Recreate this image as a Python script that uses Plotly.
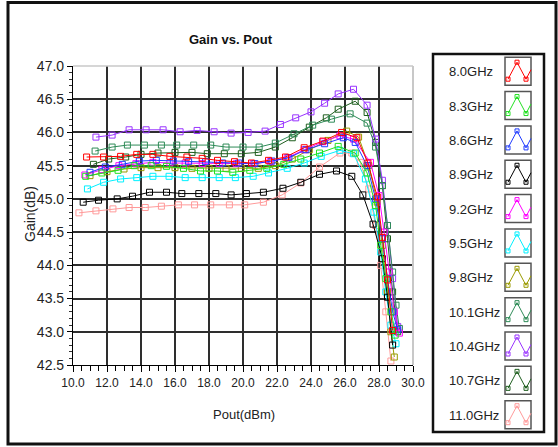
import plotly.graph_objects as go

# ---------------- data ----------------
freq_labels = ["8.0GHz", "8.3GHz", "8.6GHz", "8.9GHz", "9.2GHz", "9.5GHz",
               "9.8GHz", "10.1GHz", "10.4GHz", "10.7GHz", "11.0GHz"]
colors = ["#FF0000", "#22E022", "#1F3BFF", "#000000", "#FF00FF", "#00F0FF",
          "#9A9A00", "#2E8B57", "#9933FF", "#1E5E1E", "#FF9A9A"]

pout_80 = [10.8, 11.8, 12.8, 13.75, 14.7, 15.7, 16.7, 17.6, 18.5, 19.5, 20.5, 21.5, 22.5, 23.6, 24.7, 25.8, 26.7, 27.35, 27.9, 28.2, 28.5, 28.8]
gain_80 = [45.63, 45.63, 45.64, 45.67, 45.67, 45.64, 45.63, 45.61, 45.58, 45.56, 45.54, 45.58, 45.63, 45.77, 45.87, 46.0, 45.92, 45.54, 45.03, 44.42, 43.78, 43.02]

pout_83 = [10.75, 11.7, 12.65, 13.6, 14.6, 15.5, 16.5, 17.5, 18.5, 19.4, 20.4, 21.4, 22.4, 23.4, 24.5, 25.6, 26.6, 27.3, 27.8, 28.1, 28.4, 28.7, 28.95]
gain_83 = [45.34, 45.39, 45.43, 45.5, 45.5, 45.49, 45.46, 45.42, 45.42, 45.4, 45.43, 45.46, 45.52, 45.6, 45.69, 45.79, 45.69, 45.39, 44.9, 44.3, 43.8, 43.3, 42.95]

pout_86 = [11.0, 11.9, 12.9, 13.9, 14.9, 15.9, 16.8, 17.8, 18.8, 19.75, 20.7, 21.7, 22.7, 23.7, 24.8, 25.9, 26.6, 27.3, 27.8, 28.2, 28.5, 28.8, 29.1]
gain_86 = [45.4, 45.48, 45.52, 45.57, 45.58, 45.57, 45.56, 45.56, 45.54, 45.54, 45.53, 45.57, 45.62, 45.74, 45.83, 45.92, 45.85, 45.5, 45.0, 44.4, 43.8, 43.3, 43.03]

pout_89 = [10.6, 11.5, 12.6, 13.5, 14.5, 15.5, 16.4, 17.4, 18.4, 19.3, 20.2, 21.2, 22.35, 23.4, 24.5, 25.5, 26.4, 27.05, 27.65, 28.2, 28.5, 28.8]
gain_89 = [44.95, 44.98, 45.0, 45.04, 45.1, 45.1, 45.08, 45.08, 45.08, 45.06, 45.08, 45.1, 45.16, 45.25, 45.37, 45.42, 45.34, 45.06, 44.62, 44.1, 43.52, 42.8]

pout_92 = [10.7, 11.7, 12.7, 13.7, 14.7, 15.7, 16.6, 17.6, 18.6, 19.6, 20.6, 21.6, 22.6, 23.6, 24.7, 25.7, 26.5, 27.5, 28.0, 28.3, 28.6, 28.9, 29.2]
gain_92 = [45.36, 45.44, 45.5, 45.53, 45.55, 45.54, 45.54, 45.53, 45.53, 45.53, 45.53, 45.56, 45.62, 45.74, 45.86, 45.95, 45.9, 45.55, 45.05, 44.5, 43.9, 43.3, 42.98]

pout_95 = [10.85, 11.8, 12.8, 13.75, 14.7, 15.65, 16.6, 17.6, 18.6, 19.55, 20.6, 21.5, 22.6, 23.6, 24.6, 25.7, 26.5, 27.2, 27.7, 28.1, 28.4, 28.7, 29.0]
gain_95 = [45.15, 45.25, 45.3, 45.32, 45.34, 45.34, 45.32, 45.32, 45.32, 45.32, 45.34, 45.39, 45.46, 45.54, 45.64, 45.73, 45.68, 45.3, 44.8, 44.2, 43.6, 43.1, 42.82]

pout_98 = [11.0, 12.0, 13.0, 14.0, 15.0, 16.0, 17.0, 18.0, 19.0, 19.9, 20.9, 21.9, 22.9, 23.9, 25.0, 26.1, 26.8, 27.4, 27.9, 28.2, 28.5, 28.7, 28.9]
gain_98 = [45.35, 45.41, 45.45, 45.47, 45.47, 45.47, 45.46, 45.46, 45.46, 45.46, 45.46, 45.5, 45.6, 45.74, 45.88, 46.02, 45.93, 45.5, 44.95, 44.3, 43.6, 43.0, 42.62]

pout_101 = [11.3, 12.3, 13.2, 14.2, 15.2, 16.1, 17.1, 18.1, 19.0, 20.0, 20.95, 21.9, 23.0, 24.1, 25.2, 26.3, 27.3, 27.8, 28.2, 28.5, 28.8, 29.0, 29.2]
gain_101 = [45.72, 45.78, 45.81, 45.81, 45.81, 45.81, 45.81, 45.81, 45.78, 45.78, 45.78, 45.84, 45.98, 46.11, 46.2, 46.28, 46.14, 45.78, 45.2, 44.6, 43.9, 43.4, 43.05]

pout_104 = [11.35, 12.3, 13.3, 14.3, 15.3, 16.3, 17.3, 18.3, 19.3, 20.3, 21.3, 22.2, 23.1, 24.0, 24.8, 25.6, 26.5, 27.3, 27.8, 28.2, 28.5, 28.8, 29.1]
gain_104 = [45.93, 45.96, 46.04, 46.04, 46.04, 46.01, 46.03, 46.01, 45.99, 46.0, 46.02, 46.12, 46.22, 46.31, 46.44, 46.58, 46.65, 46.41, 45.9, 45.28, 44.6, 43.8, 43.08]

pout_107 = [11.2, 12.1, 13.1, 14.0, 15.0, 16.0, 17.0, 17.9, 18.9, 19.9, 20.9, 21.9, 22.9, 23.9, 24.9, 25.6, 26.6, 27.3, 27.8, 28.2, 28.5, 28.8, 29.1]
gain_107 = [45.52, 45.6, 45.63, 45.67, 45.69, 45.7, 45.7, 45.68, 45.68, 45.68, 45.7, 45.78, 45.92, 46.08, 46.22, 46.35, 46.47, 46.3, 45.85, 45.2, 44.4, 43.6, 43.0]

pout_110 = [10.35, 11.35, 12.35, 13.3, 14.25, 15.2, 16.2, 17.15, 18.1, 19.2, 20.1, 21.2, 22.3, 23.4, 24.5, 25.7, 26.4, 26.9, 27.4, 27.8, 28.1, 28.4, 28.7]
gain_110 = [44.79, 44.82, 44.85, 44.87, 44.87, 44.89, 44.91, 44.91, 44.91, 44.91, 44.91, 44.95, 45.06, 45.24, 45.48, 45.69, 45.69, 45.55, 45.15, 44.6, 44.0, 43.3, 42.56]

x_ticks = [10, 12, 14, 16, 18, 20, 22, 24, 26, 28, 30]
y_ticks = [42.5, 43.0, 43.5, 44.0, 44.5, 45.0, 45.5, 46.0, 46.5, 47.0]

pouts = [pout_80, pout_83, pout_86, pout_89, pout_92, pout_95, pout_98,
         pout_101, pout_104, pout_107, pout_110]
gains = [gain_80, gain_83, gain_86, gain_89, gain_92, gain_95, gain_98,
         gain_101, gain_104, gain_107, gain_110]

# ---------------- layout geometry (pixels) ----------------
W, H = 558, 447
L, R, T, B = 73, 413, 66, 365


def px(x):
    return (x - L) / (R - L)


def py(y):
    return (B - y) / (B - T)


fig = go.Figure()
for i in reversed(range(len(freq_labels))):
    fig.add_trace(go.Scatter(
        x=pouts[i], y=gains[i], mode="lines+markers", name=freq_labels[i],
        line=dict(color=colors[i], width=1),
        marker=dict(symbol="square-open", size=6, color=colors[i],
                    line=dict(width=1, color=colors[i])),
        showlegend=False,
    ))

font_main = "Liberation Sans, Arial"

fig.update_xaxes(
    range=[10, 30], tickvals=x_ticks, ticktext=[f"{v:.1f}" for v in x_ticks],
    showgrid=True, gridcolor="#2e2e2e", gridwidth=1.6,
    showline=True, linecolor="#000", linewidth=1.2, mirror=False,
    ticks="outside", ticklen=6, tickcolor="#000", tickwidth=1.2,
    minor=dict(dtick=0.5, ticks="outside", ticklen=5, tickcolor="#000", showgrid=False),
    tickfont=dict(family=font_main, size=12, color="#222"),
    zeroline=False,
)
fig.update_yaxes(
    range=[42.5, 47.0], tickvals=y_ticks, ticktext=[f"{v:.1f}" for v in y_ticks],
    showgrid=True, gridcolor="#2e2e2e", gridwidth=1.6,
    showline=True, linecolor="#000", linewidth=1.2, mirror=False,
    ticks="outside", ticklen=5, tickcolor="#000", tickwidth=1.2,
    minor=dict(dtick=0.1, ticks="outside", ticklen=3, tickcolor="#333", showgrid=False),
    tickfont=dict(family=font_main, size=14, color="#222"),
    zeroline=False,
)

shapes = []
annotations = []

# light border at top and right of plot area
shapes.append(dict(type="line", xref="paper", yref="paper", x0=0, x1=1, y0=1, y1=1,
                   line=dict(color="#c8c8c8", width=1.5)))
shapes.append(dict(type="line", xref="paper", yref="paper", x0=1, x1=1, y0=0, y1=1,
                   line=dict(color="#c8c8c8", width=2)))

# outer frame
shapes.append(dict(type="rect", xref="paper", yref="paper",
                   x0=px(8), x1=px(556), y0=py(2.5), y1=py(444),
                   line=dict(color="#111", width=3)))

# legend box
shapes.append(dict(type="rect", xref="paper", yref="paper",
                   x0=px(433), x1=px(544), y0=py(54), y1=py(432),
                   line=dict(color="#111", width=2.5)))

row0, pitch = 71.7, 34.35
for i, lab in enumerate(freq_labels):
    yc = row0 + i * pitch
    annotations.append(dict(text=lab, xref="paper", yref="paper",
                            x=px(447), y=py(yc), xanchor="left", yanchor="middle",
                            showarrow=False,
                            font=dict(family=font_main, size=13, color="#222")))
    shapes.append(dict(type="rect", xref="paper", yref="paper",
                       x0=px(505), x1=px(531), y0=py(yc - 14.5), y1=py(yc + 13.5),
                       line=dict(color="#555", width=1.5)))
    pts = [(508, yc + 7.5), (517, yc - 9.5), (526, yc + 7.5), (531, yc - 2)]
    path = "M " + " L ".join(f"{px(a):.5f},{py(b):.5f}" for a, b in pts)
    shapes.append(dict(type="path", xref="paper", yref="paper", path=path,
                       line=dict(color=colors[i], width=1)))
    for a, b in pts[:3]:
        shapes.append(dict(type="rect", xref="paper", yref="paper",
                           x0=px(a - 2), x1=px(a + 2), y0=py(b - 2), y1=py(b + 2),
                           line=dict(color=colors[i], width=1)))

# titles
annotations.append(dict(text="<b>Gain vs. Pout</b>", xref="paper", yref="paper",
                        x=px(231), y=py(39), xanchor="center", yanchor="middle",
                        showarrow=False,
                        font=dict(family=font_main, size=13, color="#111")))
annotations.append(dict(text="Pout(dBm)", xref="paper", yref="paper",
                        x=px(244), y=py(414), xanchor="center", yanchor="middle",
                        showarrow=False,
                        font=dict(family=font_main, size=13, color="#222")))
annotations.append(dict(text="Gain(dB)", xref="paper", yref="paper",
                        x=px(30), y=py(214), xanchor="center", yanchor="middle",
                        textangle=-90, showarrow=False,
                        font=dict(family=font_main, size=14, color="#222")))

fig.update_layout(
    width=W, height=H, autosize=False,
    margin=dict(l=L, r=W - R, t=T, b=H - B, pad=0),
    paper_bgcolor="white", plot_bgcolor="white",
    shapes=shapes, annotations=annotations, showlegend=False,
)

fig.write_html("out.html", config={"displayModeBar": False},
               post_script="document.body.style.margin='0';document.body.style.padding='0';")
